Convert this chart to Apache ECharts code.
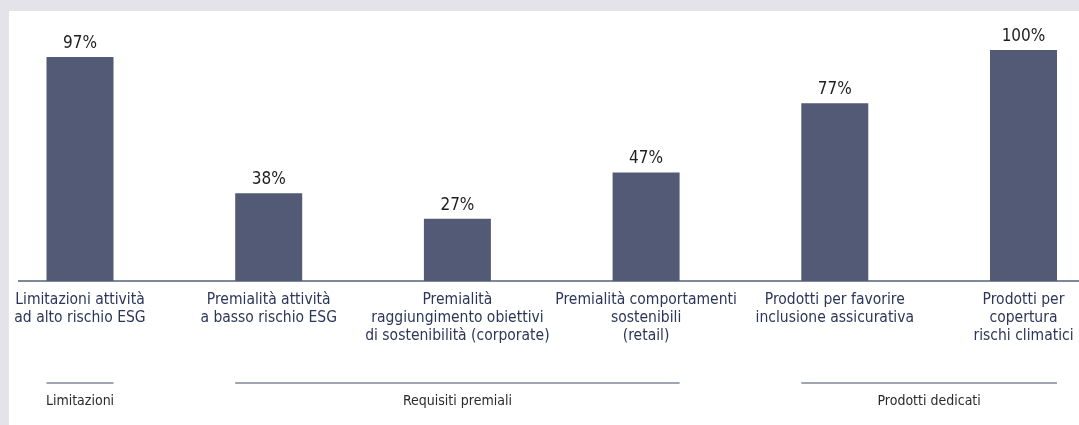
<!DOCTYPE html>
<html>
<head>
<meta charset="utf-8">
<script src="https://cdn.jsdelivr.net/npm/echarts@6/dist/echarts.min.js"></script>
<style>
  html, body { margin: 0; padding: 0; }
  body { width: 1079px; height: 425px; background: #e4e3e9; position: relative; overflow: hidden; }
  #paper { position: absolute; left: 9px; top: 11px; width: 1070px; height: 414px; background: #ffffff; }
  #chart { position: absolute; left: -30px; top: 11px; width: 1159px; height: 414px; }
</style>
</head>
<body>
<div id="paper"></div>
<div id="chart"></div>
<script>
const categories = [
  'Limitazioni attività\nad alto rischio ESG',
  'Premialità attività\na basso rischio ESG',
  'Premialità\nraggiungimento obiettivi\ndi sostenibilità (corporate)',
  'Premialità comportamenti\nsostenibili\n(retail)',
  'Prodotti per favorire\ninclusione assicurativa',
  'Prodotti per\ncopertura\nrischi climatici'
];
const values = [97, 38, 27, 47, 77, 100];
const groupNames = ['Limitazioni', 'Requisiti premiali', 'Prodotti dedicati'];
const groupStart = [0, 1, 4];
const groupEnd = [0, 3, 5];

const FONT = "'Liberation Sans Narrow', 'DejaVu Sans Condensed', 'Liberation Sans', sans-serif";
const BAR_W = 67;

const chart = echarts.init(document.getElementById('chart'), null, { renderer: 'canvas' });
const groupData = groupNames.map((n, i) => [groupStart[i], groupEnd[i]]);

chart.setOption({
  animation: false,
  grid: { left: 15.65, right: 11.15, top: 39, bottom: 144, containLabel: false },
  xAxis: {
    type: 'category',
    data: categories,
    boundaryGap: true,
    axisLine: { show: false },
    axisTick: { show: false },
    axisLabel: {
      interval: 0,
      margin: 10,
      color: '#2c3659',
      fontFamily: FONT,
      fontSize: 15.5,
      lineHeight: 18,
      align: 'center'
    }
  },
  yAxis: { type: 'value', min: 0, max: 100, show: false },
  series: [
    {
      type: 'bar',
      data: values,
      barWidth: BAR_W,
      itemStyle: { color: '#525a75' },
      label: {
        show: true,
        position: 'top',
        distance: 5,
        formatter: '{c}%',
        color: '#1e1e1e',
        fontFamily: FONT,
        fontSize: 17
      },
      z: 3
    },
    {
      type: 'custom',
      clip: false,
      data: groupData,
      silent: true,
      renderItem: function (params, api) {
        const s = api.coord([api.value(0), 0]);
        const e = api.coord([api.value(1), 0]);
        const x1 = s[0] - BAR_W / 2;
        const x2 = e[0] + BAR_W / 2;
        const yBase = s[1];
        return {
          type: 'group',
          children: [
            {
              type: 'line',
              shape: { x1: x1, y1: yBase + 102, x2: x2, y2: yBase + 102 },
              style: { stroke: '#7f8899', lineWidth: 1.5 }
            },
            {
              type: 'text',
              style: {
                text: groupNames[params.dataIndex],
                x: (x1 + x2) / 2,
                y: yBase + 120,
                align: 'center',
                verticalAlign: 'middle',
                fill: '#2a2a2a',
                font: '14px ' + FONT
              }
            }
          ]
        };
      }
    }
  ],
  graphic: [
    {
      type: 'line',
      shape: { x1: 48, y1: 270, x2: 1109, y2: 270 },
      style: { stroke: '#7f8899', lineWidth: 2 },
      z: 1
    }
  ]
});
</script>
</body>
</html>
